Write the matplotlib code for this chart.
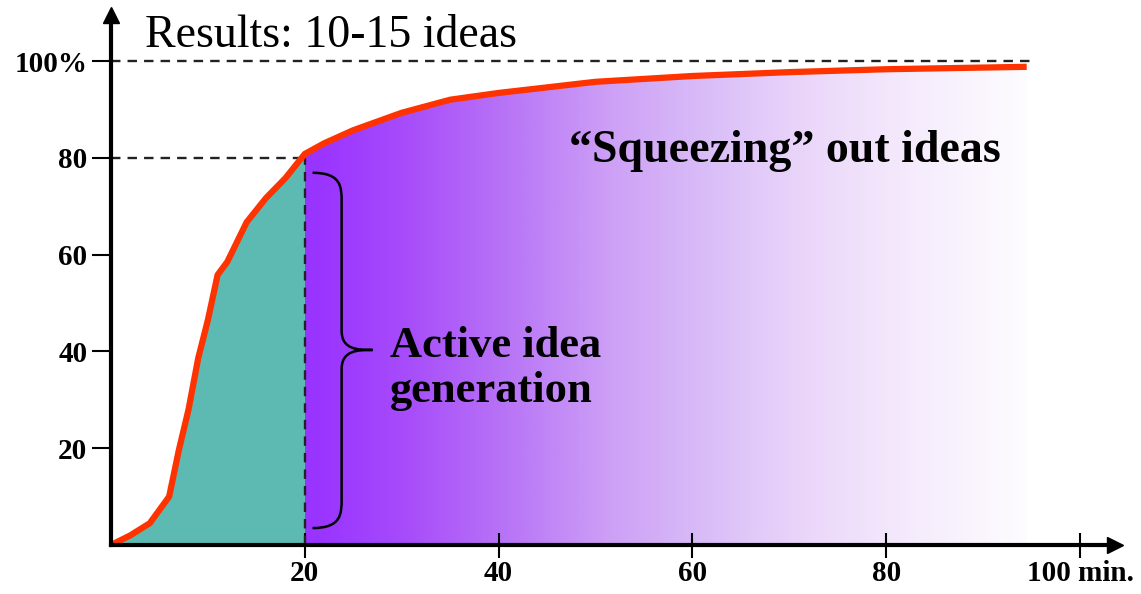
import numpy as np
import matplotlib.pyplot as plt
from matplotlib.colors import LinearSegmentedColormap
from matplotlib.path import Path
from matplotlib.patches import PathPatch

# curve (minutes, % of ideas)
t = [0, 2, 4, 6, 7, 8, 9, 10, 11, 12, 14, 16, 18, 20, 22, 25, 30, 35, 40, 50, 60, 70, 80, 94.5]
pct = [0, 2, 4.5, 10, 19.6, 28, 38.6, 46.5, 55.8, 58.5, 66.7, 71.7, 75.8, 80.8,
       83, 85.7, 89.3, 92, 93.4, 95.7, 96.9, 97.7, 98.3, 98.8]

x_ticks = [20, 40, 60, 80, 100]
x_labels = ['20', '40', '60', '80', '100 min.']
y_ticks = [20, 40, 60, 80, 100]
y_labels = ['20', '40', '60', '80', '100%']

active_end = 20

# gradient stops for the "squeezing" region (x position, rgb)
grad_x = [20, 22.5, 30.9, 41.2, 51.5, 61.8, 72.1, 82.5, 94.5]
grad_rgb = [(153, 51, 255), (155, 55, 255), (168, 78, 250), (185, 118, 246), (205, 160, 246),
            (218, 190, 248), (235, 215, 250), (245, 235, 252), (253, 252, 255)]

font = ['Liberation Serif', 'DejaVu Serif']

W, H = 1141, 594
fig = plt.figure(figsize=(W / 100, H / 100), dpi=100)
x0, y0 = 111, 545          # origin in pixels
xpx, ypx = 9.69, 4.84      # pixels per unit
xmax, ymax = 103.6, 109.5
ax = fig.add_axes([x0 / W, (H - y0) / H, xmax * xpx / W, ymax * ypx / H])
ax.set_xlim(0, xmax)
ax.set_ylim(0, ymax)

t = np.array(t)
pct = np.array(pct)

# teal area under the curve up to 20 min
m = t <= active_end
ax.fill_between(t[m], 0, pct[m], color='#5cbab3', lw=0, zorder=1)

# purple gradient area after 20 min
m2 = t >= active_end
poly = ax.fill_between(t[m2], 0, pct[m2], color='none', lw=0, zorder=1)
pos = [(g - grad_x[0]) / (grad_x[-1] - grad_x[0]) for g in grad_x]
cmap = LinearSegmentedColormap.from_list('sq', list(zip(pos, [tuple(c / 255 for c in rgb) for rgb in grad_rgb])))
grad = np.linspace(0, 1, 512).reshape(1, -1)
im = ax.imshow(grad, cmap=cmap, aspect='auto', extent=[grad_x[0], grad_x[-1], 0, 100],
               zorder=1, interpolation='bilinear')
clip = poly.get_paths()[0]
im.set_clip_path(clip, transform=ax.transData)

# red curve
ax.plot(t, pct, color='#ff3300', lw=4.5, solid_capstyle='butt', zorder=4)

# dashed guides
dash = (0, (4, 3))
ax.plot([0, active_end], [80, 80], color='#222222', lw=1.7, ls=dash, zorder=3)
ax.plot([active_end, active_end], [0, 80], color='#222222', lw=1.7, ls=dash, zorder=3)
ax.plot([0, 95], [100, 100], color='#222222', lw=1.7, ls=dash, zorder=3)

# axes with arrows
for s in ['top', 'right']:
    ax.spines[s].set_visible(False)
for s in ['left', 'bottom']:
    ax.spines[s].set_linewidth(3)
    ax.spines[s].set_zorder(5)
ax.plot(1, 0, '>', color='black', ms=12, transform=ax.transAxes, clip_on=False)
ax.plot(0, 1, '^', color='black', ms=12, transform=ax.transAxes, clip_on=False)

ax.set_xticks(x_ticks)
ax.set_xticklabels(x_labels)
ax.set_yticks(y_ticks)
ax.set_yticklabels(y_labels)
ax.tick_params(axis='x', direction='inout', length=18, width=1.5, pad=2)
ax.tick_params(axis='y', direction='out', length=14, width=1.5, pad=3)
for lab in ax.get_xticklabels() + ax.get_yticklabels():
    lab.set_fontfamily(font)
    lab.set_fontweight('bold')
    lab.set_fontsize(21)

# curly brace
bx, bt, bb, bm, btip = 23.8, 76.9, 3.5, 40.3, 27.0
verts = [(20.8, bt), (bx, bt), (bx, bt - 3), (bx, bt - 6),
         (bx, bm + 4),
         (bx, bm), (btip - 1.5, bm), (btip, bm),
         (btip - 1.5, bm), (bx, bm), (bx, bm - 4),
         (bx, bb + 6),
         (bx, bb + 3), (bx, bb), (20.8, bb)]
codes = [Path.MOVETO, Path.CURVE4, Path.CURVE4, Path.CURVE4,
         Path.LINETO,
         Path.CURVE4, Path.CURVE4, Path.CURVE4,
         Path.CURVE4, Path.CURVE4, Path.CURVE4,
         Path.LINETO,
         Path.CURVE4, Path.CURVE4, Path.CURVE4]
ax.add_patch(PathPatch(Path(verts, codes), fill=False, lw=1.8, ec='black', zorder=6))

# texts
ax.text(3.5, 105.3, 'Results: 10-15 ideas', fontsize=33, family=font, va='center', ha='left')
ax.text(47.3, 81.5, '\u201cSqueezing\u201d out ideas', fontsize=33, family=font,
        fontweight='bold', va='center', ha='left')
ax.text(28.8, 36.5, 'Active idea\ngeneration', fontsize=32, family=font,
        fontweight='bold', va='center', ha='left', linespacing=1.15)

fig.savefig('out.png', dpi=100)
